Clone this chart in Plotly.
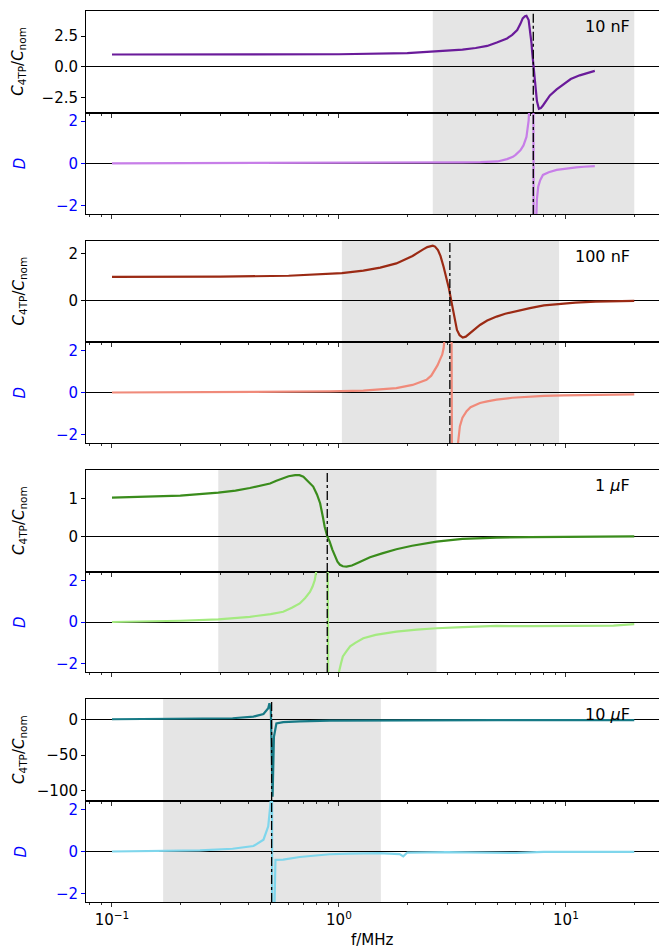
import plotly.graph_objects as go

# ---------------- data ----------------
f1C = [0.1, 0.3, 1.0, 2.0, 2.5, 3.0, 3.5, 4.0, 4.5, 4.96, 5.2, 5.5, 5.8, 6.1, 6.3, 6.45, 6.6, 6.7, 6.85, 6.95, 7.05, 7.1, 7.2, 7.35, 7.45, 7.6, 7.75, 7.92, 8.2, 8.5, 9.1, 9.8, 10.5, 11.5, 12.3, 13.4]
c1 = [1.0, 1.0, 1.02, 1.12, 1.21, 1.3, 1.4, 1.53, 1.7, 1.98, 2.12, 2.31, 2.6, 2.99, 3.5, 3.95, 4.12, 4.16, 3.81, 3.0, 1.92, 1.2, 0.0, -1.93, -2.8, -3.43, -3.38, -3.16, -2.8, -2.34, -1.85, -1.38, -1.0, -0.70, -0.52, -0.34]
f1D = [0.1, 1.0, 2.0, 3.5, 4.2, 5.0, 5.5, 5.84, 6.0, 6.3, 6.5, 6.7, 6.85, 6.95, 7.1, 7.3, 7.35, 7.45, 7.55, 7.7, 7.92, 8.4, 9.1, 10.0, 11.1, 12.0, 13.4]
d1 = [0.0, 0.01, 0.03, 0.05, 0.06, 0.09, 0.2, 0.31, 0.4, 0.62, 0.85, 1.25, 2.03, 3.5, 30, -30, -3.5, -1.7, -1.1, -0.8, -0.55, -0.42, -0.31, -0.24, -0.19, -0.16, -0.13]

f2C = [0.1, 0.3, 0.6, 0.91, 1.03, 1.28, 1.52, 1.79, 2.11, 2.35, 2.45, 2.59, 2.65, 2.73, 2.8, 2.89, 2.97, 3.05, 3.15, 3.22, 3.31, 3.4, 3.51, 3.62, 3.78, 4.0, 4.18, 4.5, 4.95, 5.4, 5.88, 6.94, 8.0, 9.33, 11.0, 13.5, 16.0, 20]
c2 = [1.0, 1.01, 1.05, 1.12, 1.16, 1.27, 1.40, 1.58, 1.90, 2.18, 2.28, 2.34, 2.3, 2.15, 1.9, 1.44, 1.0, 0.51, -0.2, -0.75, -1.27, -1.5, -1.60, -1.56, -1.41, -1.22, -1.06, -0.87, -0.70, -0.58, -0.49, -0.34, -0.22, -0.16, -0.1, -0.06, -0.04, -0.03]
f2D = [0.1, 0.5, 0.91, 1.28, 1.79, 2.11, 2.3, 2.43, 2.55, 2.65, 2.72, 2.78, 2.85, 2.89, 2.98, 3.08, 3.2, 3.3, 3.41, 3.5, 3.65, 3.8, 4.18, 4.5, 4.95, 5.8, 6.94, 8.0, 9.8, 14.0, 20]
d2 = [0.0, 0.02, 0.05, 0.09, 0.21, 0.36, 0.5, 0.6, 0.8, 1.07, 1.3, 1.54, 1.8, 2.09, 3.5, 30, -30, -3.0, -1.6, -1.2, -0.89, -0.7, -0.5, -0.42, -0.34, -0.25, -0.19, -0.16, -0.14, -0.11, -0.09]

f3C = [0.1, 0.2, 0.294, 0.35, 0.405, 0.45, 0.497, 0.53, 0.568, 0.6, 0.641, 0.67, 0.697, 0.73, 0.77, 0.8, 0.826, 0.85, 0.865, 0.888, 0.91, 0.935, 0.96, 0.985, 1.01, 1.04, 1.08, 1.14, 1.20, 1.28, 1.37, 1.55, 1.79, 2.1, 2.69, 3.5, 4.95, 7.0, 9.8, 20]
c3 = [1.02, 1.07, 1.15, 1.2, 1.27, 1.33, 1.39, 1.46, 1.53, 1.58, 1.61, 1.61, 1.57, 1.46, 1.31, 1.1, 0.87, 0.5, 0.25, 0.0, -0.14, -0.35, -0.54, -0.67, -0.75, -0.79, -0.80, -0.77, -0.71, -0.63, -0.55, -0.45, -0.34, -0.25, -0.14, -0.07, -0.035, -0.02, -0.01, 0.0]
f3D = [0.1, 0.2, 0.294, 0.405, 0.5, 0.568, 0.62, 0.672, 0.71, 0.745, 0.765, 0.782, 0.81, 0.87, 0.92, 0.99, 1.02, 1.04, 1.08, 1.12, 1.18, 1.28, 1.45, 1.79, 2.2, 2.69, 3.5, 4.95, 7.0, 9.8, 12.0, 16.2, 20]
d3 = [0.0, 0.06, 0.13, 0.25, 0.38, 0.49, 0.68, 0.89, 1.15, 1.44, 1.7, 2.0, 3.0, 30, -30, -2.6, -2.0, -1.65, -1.4, -1.17, -1.0, -0.78, -0.62, -0.46, -0.37, -0.30, -0.25, -0.19, -0.2, -0.19, -0.18, -0.17, -0.10]

f4C = [0.1, 0.244, 0.34, 0.42, 0.465, 0.488, 0.494, 0.501, 0.505, 0.51, 0.517, 0.53, 0.568, 0.672, 0.91, 2.0, 5.0, 20]
c4 = [1.0, 1.5, 2.4, 4.7, 8.5, 16.6, 23.7, 14, -52, -109, -24, -5, -3, -1.9, -1.0, -0.5, -0.3, -0.2]
f4D = [0.1, 0.168, 0.244, 0.34, 0.42, 0.465, 0.488, 0.5, 0.505, 0.51, 0.52, 0.525, 0.568, 0.672, 0.91, 1.12, 1.5, 1.85, 1.92, 2.0, 3.0, 6.05, 8.0, 20]
d4 = [0.0, 0.02, 0.05, 0.13, 0.26, 0.56, 1.2, 2.36, 30, -30, -2.6, -0.4, -0.39, -0.26, -0.13, -0.1, -0.08, -0.12, -0.23, -0.05, -0.03, -0.07, -0.02, -0.02]

labels = ["10 nF", "100 nF", "1 <i>μ</i>F", "10 <i>μ</i>F"]
f_res = [7.18, 3.08, 0.888, 0.505]
span_lo = [2.59, 1.03, 0.294, 0.168]
span_hi = [20.0, 9.33, 2.69, 1.53]

colC = ["#6a1b9a", "#9b2a14", "#3a8c1c", "#177a86"]
colD = ["#c77ee8", "#f08a7a", "#a4ea80", "#7fd6ec"]

c_ranges = [[-3.75, 4.55], [-1.79, 2.54], [-0.94, 1.745], [-115.2, 29.8]]
c_tickvals = [[-2.5, 0, 2.5], [0, 2], [0, 1], [-100, -50, 0]]
c_ticktext = [["−2.5", "0.0", "2.5"], ["0", "2"], ["0", "1"], ["−100", "−50", "0"]]
d_range = [-2.4, 2.4]
d_tickvals = [-2, 0, 2]
d_ticktext = ["−2", "0", "2"]

x_major = [0.1, 1, 10]
x_major_text = ["10<sup>−1</sup>", "10<sup>0</sup>", "10<sup>1</sup>"]
x_minor = [0.08, 0.09, 0.2, 0.3, 0.4, 0.5, 0.6, 0.7, 0.8, 0.9, 2, 3, 4, 5, 6, 7, 8, 9, 20]

# ---------------- layout geometry ----------------
W, H = 659, 949
panels_px = [(11, 112.7), (112.7, 214), (241, 342), (342, 443),
             (470, 572), (572, 672), (699, 801), (801, 902)]
x0_px = 86
xrange_log = [-1.1145, 1.41]
FONT = "DejaVu Sans"
FS = 15

fig = go.Figure()
Cx = [f1C, f2C, f3C, f4C]
Cy = [c1, c2, c3, c4]
Dx = [f1D, f2D, f3D, f4D]
Dy = [d1, d2, d3, d4]

layout = dict(
    width=W, height=H, margin=dict(l=0, r=0, t=0, b=0),
    paper_bgcolor="white", plot_bgcolor="white", showlegend=False,
    font=dict(family=FONT, size=FS, color="black"),
)
shapes = []
annotations = []

for i in range(8):
    n = i + 1
    sfx = "" if n == 1 else str(n)
    xr, yr = "x" + sfx, "y" + sfx
    top, bot = panels_px[i]
    pair = i // 2
    isC = (i % 2 == 0)
    xa = dict(
        type="log", range=xrange_log,
        domain=[x0_px / W, 1.0], anchor=yr,
        showline=True, mirror=True, linecolor="black", linewidth=1,
        showgrid=False, zeroline=False,
        ticks="outside", ticklen=4, tickwidth=1, tickcolor="#333",
        tickmode="array", tickvals=x_major, ticktext=x_major_text,
        showticklabels=(n == 8),
        tickfont=dict(family=FONT, size=FS),
        minor=dict(ticks="outside", ticklen=2, tickwidth=0.8, tickcolor="#333",
                   tickmode="array", tickvals=x_minor),
    )
    if n > 1:
        xa["matches"] = "x"
    ya = dict(
        domain=[1 - bot / H, 1 - top / H], anchor=xr,
        showline=True, mirror=False, linecolor="black", linewidth=1,
        showgrid=False,
        zeroline=True, zerolinecolor="black", zerolinewidth=1,
        ticks="outside", ticklen=4, tickwidth=1,
        tickmode="array",
    )
    if isC:
        ya.update(range=c_ranges[pair], tickvals=c_tickvals[pair], ticktext=c_ticktext[pair],
                  tickfont=dict(family=FONT, size=FS, color="black"), tickcolor="black")
        fig.add_trace(go.Scatter(x=Cx[pair], y=Cy[pair], mode="lines",
                                 line=dict(color=colC[pair], width=2.2),
                                 xaxis=xr, yaxis=yr))
    else:
        ya.update(range=d_range, tickvals=d_tickvals, ticktext=d_ticktext,
                  tickfont=dict(family=FONT, size=FS, color="blue"), tickcolor="blue")
        fig.add_trace(go.Scatter(x=Dx[pair], y=Dy[pair], mode="lines",
                                 line=dict(color=colD[pair], width=2.2),
                                 xaxis=xr, yaxis=yr))
    layout["xaxis" + sfx] = xa
    layout["yaxis" + sfx] = ya

    shapes.append(dict(type="rect", xref=xr, yref=yr + " domain",
                       x0=span_lo[pair], x1=span_hi[pair], y0=0, y1=1,
                       fillcolor="#e5e5e5", line=dict(width=0), layer="below"))
    shapes.append(dict(type="line", xref=xr, yref=yr + " domain",
                       x0=f_res[pair], x1=f_res[pair], y0=0, y1=1,
                       line=dict(color="black", width=1.3, dash="dashdot"), layer="above"))

    ymid = 1 - (top + bot) / 2 / H
    if isC:
        annotations.append(dict(text="<i>C</i><sub>4TP</sub>/<i>C</i><sub>nom</sub>",
                                xref="paper", yref="paper", x=19 / W, y=ymid,
                                xanchor="center", yanchor="middle", textangle=-90,
                                showarrow=False, font=dict(family=FONT, size=FS, color="black")))
        annotations.append(dict(text=labels[pair], xref="paper", yref="paper",
                                x=632 / W, y=1 - (top + 15) / H,
                                xanchor="right", yanchor="middle", showarrow=False,
                                font=dict(family=FONT, size=FS + 1, color="black")))
    else:
        annotations.append(dict(text="<i>D</i>", xref="paper", yref="paper",
                                x=20 / W, y=ymid, xanchor="center", yanchor="middle",
                                textangle=-90, showarrow=False,
                                font=dict(family=FONT, size=FS, color="blue")))

annotations.append(dict(text="f/MHz", xref="paper", yref="paper",
                        x=372 / W, y=1 - 940 / H, xanchor="center", yanchor="middle",
                        showarrow=False, font=dict(family=FONT, size=FS, color="black")))

layout["shapes"] = shapes
layout["annotations"] = annotations
fig.update_layout(**layout)
fig.write_html("out.html")
